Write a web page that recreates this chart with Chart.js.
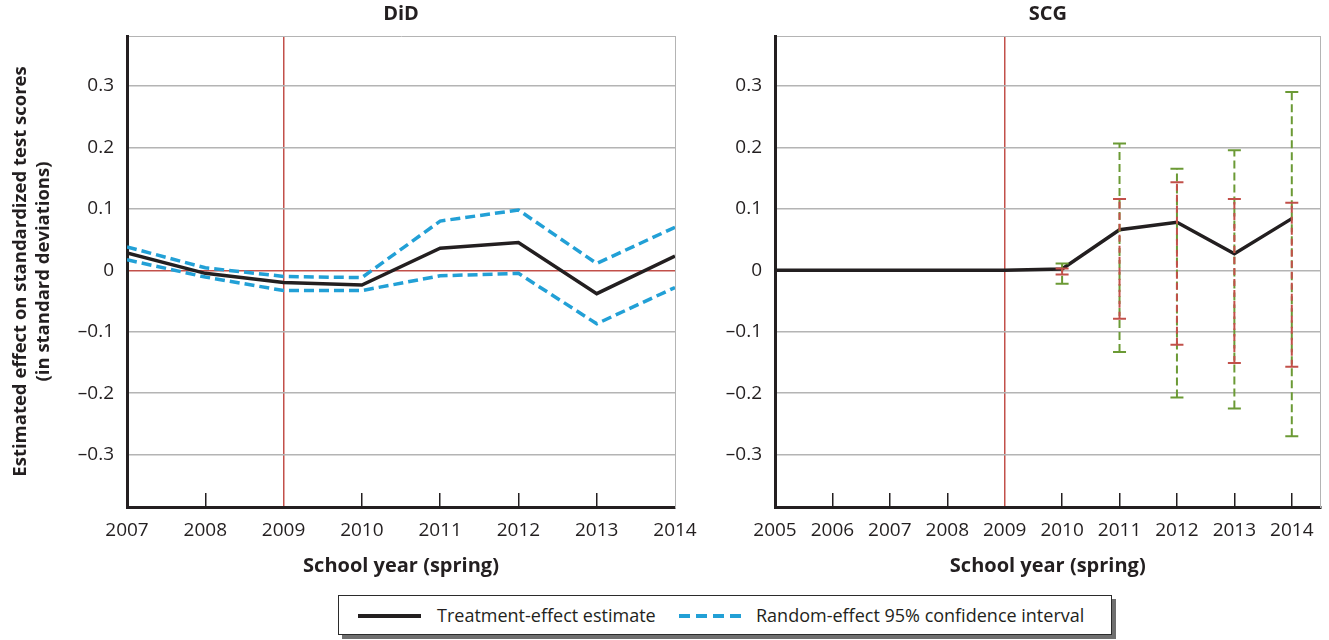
<!DOCTYPE html>
<html>
<head>
<meta charset="utf-8">
<script src="https://cdn.jsdelivr.net/npm/chart.js@4.4.1/dist/chart.umd.min.js"></script>
<style>
  body { margin: 0; background: #fff; }
  #page { position: relative; width: 1329px; height: 640px; overflow: hidden; font-family: 'Open Sans', sans-serif; color: #231f20; }
  #did_Chart { position: absolute; left: 0; top: 0; }
  #scg_Chart { position: absolute; left: 700px; top: 0; }
  #legend { position: absolute; left: 338px; top: 595px; width: 772px; height: 38px; border: 1px solid #2b2b2b; box-shadow: 4px 4px 0 #6f6f6f; background: #fff; font-size: 18px; }
  #legend .solid { position: absolute; left: 19px; top: 18px; width: 63px; height: 4px; background: #231f20; }
  #legend .dashed { position: absolute; left: 340px; top: 18px; width: 66px; height: 4px; background: repeating-linear-gradient(90deg, #22a0d6 0 11px, transparent 11px 17px); }
  #legend span { position: absolute; top: 6px; line-height: 26px; white-space: nowrap; }
</style>
</head>
<body>
<div id="page">
  <canvas id="did_Chart" width="700" height="590"></canvas>
  <canvas id="scg_Chart" width="629" height="590"></canvas>
  <div id="legend">
    <div class="solid"></div><span style="left:98px">Treatment-effect estimate</span>
    <div class="dashed"></div><span style="left:417px">Random-effect 95% confidence interval</span>
  </div>
</div>
<script>
// DiD panel
var didYears = [2007, 2008, 2009, 2010, 2011, 2012, 2013, 2014]
var didEstimate = [0.028, -0.005, -0.020, -0.024, 0.036, 0.045, -0.038, 0.023]
var didUpper = [0.038, 0.004, -0.010, -0.012, 0.080, 0.098, 0.011, 0.070]
var didLower = [0.017, -0.011, -0.033, -0.033, -0.009, -0.005, -0.087, -0.028]

// SCG panel
var scgYears = [2005, 2006, 2007, 2008, 2009, 2010, 2011, 2012, 2013, 2014]
var scgEstimate = [0, 0, 0, 0, 0, 0.002, 0.066, 0.078, 0.027, 0.084]
var ciYears = [2010, 2011, 2012, 2013, 2014]
var greenLow = [-0.022, -0.133, -0.207, -0.225, -0.270]
var greenHigh = [0.011, 0.206, 0.165, 0.195, 0.290]
var redLow = [-0.007, -0.079, -0.121, -0.151, -0.157]
var redHigh = [0.003, 0.116, 0.143, 0.116, 0.110]

var yTicks = [-0.3, -0.2, -0.1, 0, 0.1, 0.2, 0.3]
var treatmentYear = 2009

var dark = '#231f20'
var red = '#c2504a'
var gridGray = '#b4b4b4'
var blue = '#22a0d6'
var green = '#6b9a35'
var none = 'rgba(0,0,0,0)'
var tickFont = { family: 'Open Sans', size: 19 }
var boldFont = { family: 'Open Sans', size: 20, weight: 'bold' }

function points(xs, ys) {
    return xs.map(function (x, i) { return { x: x, y: ys[i] } })
}

function formatY(v) {
    if (v === 0) return '0'
    return (v < 0 ? '\u2013' : '') + Math.abs(v).toFixed(1)
}

function xAxis(years, min, max) {
    return {
        type: 'linear', min: min, max: max,
        afterBuildTicks: function (s) { s.ticks = years.map(function (v) { return { value: v } }) },
        afterFit: function (s) {
            s.height = 83
            // let the end labels hang past the plot, as in the original
            s.paddingLeft = 0
            s.paddingRight = 0
        },
        grid: {
            color: function (c) { return c.tick && c.tick.value === treatmentYear ? red : none },
            lineWidth: 1.5,
            tickLength: -14,
            tickWidth: 1.5,
            tickColor: function (c) {
                var v = c.tick ? c.tick.value : null
                return (v === min || v === max || v === treatmentYear) ? none : dark
            }
        },
        border: { color: dark, width: 3 },
        ticks: { padding: 26, autoSkip: false, maxRotation: 0, color: dark, font: tickFont, callback: function (v) { return String(v) } },
        title: { display: true, text: 'School year (spring)', color: dark, font: boldFont, padding: { top: 0, bottom: 12 } }
    }
}

function topAxis(min, max, text) {
    return {
        type: 'linear', position: 'top', min: min, max: max,
        afterFit: function (s) { s.height = 36 },
        grid: { display: false },
        ticks: { display: false },
        border: { color: gridGray, width: 1 },
        title: { display: true, text: text, color: dark, font: boldFont, padding: { top: 2, bottom: 0 } }
    }
}

function yAxis(width, redZero, title) {
    return {
        type: 'linear', min: -0.385, max: 0.381,
        afterBuildTicks: function (s) { s.ticks = yTicks.map(function (v) { return { value: v } }) },
        afterFit: function (s) { s.width = width },
        grid: {
            color: function (c) { return redZero && c.tick && c.tick.value === 0 ? red : gridGray },
            lineWidth: 1.5,
            drawTicks: false
        },
        border: { color: dark, width: 3 },
        ticks: { padding: 13, color: dark, font: tickFont, callback: formatY },
        title: {
            display: !!title, text: title, color: dark,
            font: { family: 'Open Sans', size: 18.5, weight: 'bold', lineHeight: 1.25 },
            padding: { top: 9, bottom: 0 }
        }
    }
}

var rightAxis = {
    type: 'linear', position: 'right',
    afterFit: function (s) { s.width = 0 },
    grid: { display: false },
    ticks: { display: false },
    border: { color: gridGray, width: 1 }
}

function lineSet(label, xs, ys, color, dash) {
    return {
        label: label, data: points(xs, ys),
        borderColor: color, borderWidth: 3.5, borderDash: dash || [],
        pointRadius: 0, fill: false, tension: 0
    }
}

function errorBar(year, low, high, color, dash) {
    return {
        data: [{ x: year, y: low }, { x: year, y: high }],
        borderColor: color, borderWidth: 2, borderDash: dash,
        pointStyle: 'line', pointRadius: 6.5, pointBorderColor: color, pointBorderWidth: 2,
        fill: false
    }
}

var commonOptions = {
    responsive: false,
    animation: false,
    devicePixelRatio: 1,
    plugins: { legend: { display: false }, tooltip: { enabled: false } },
    events: []
}

new Chart(document.getElementById('did_Chart'), {
    type: 'line',
    data: {
        datasets: [
            lineSet('Treatment-effect estimate', didYears, didEstimate, dark),
            lineSet('Upper 95% CI', didYears, didUpper, blue, [10, 5]),
            lineSet('Lower 95% CI', didYears, didLower, blue, [10, 5])
        ]
    },
    options: Object.assign({}, commonOptions, {
        layout: { padding: { left: 0, right: 25, top: 0, bottom: 0 } },
        scales: {
            x: xAxis(didYears, 2007, 2014),
            x2: topAxis(2007, 2014, 'DiD'),
            y: yAxis(127, true, ['Estimated effect on standardized test scores', '(in standard deviations)']),
            y2: rightAxis
        }
    })
});

var scgSets = []
ciYears.forEach(function (year, i) {
    scgSets.push(errorBar(year, redLow[i], redHigh[i], red, [7, 4]))
})
ciYears.forEach(function (year, i) {
    scgSets.push(errorBar(year, greenLow[i], greenHigh[i], green, [8, 4]))
})
scgSets.push(lineSet('Treatment-effect estimate', scgYears, scgEstimate, dark))

new Chart(document.getElementById('scg_Chart'), {
    type: 'line',
    data: { datasets: scgSets },
    options: Object.assign({}, commonOptions, {
        layout: { padding: { left: 0, right: 1, top: 0, bottom: 0 } },
        scales: {
            x: xAxis(scgYears, 2005, 2014.5),
            x2: topAxis(2005, 2014.5, 'SCG'),
            y: yAxis(75, false, null),
            y2: rightAxis
        }
    })
});
</script>
</body>
</html>
